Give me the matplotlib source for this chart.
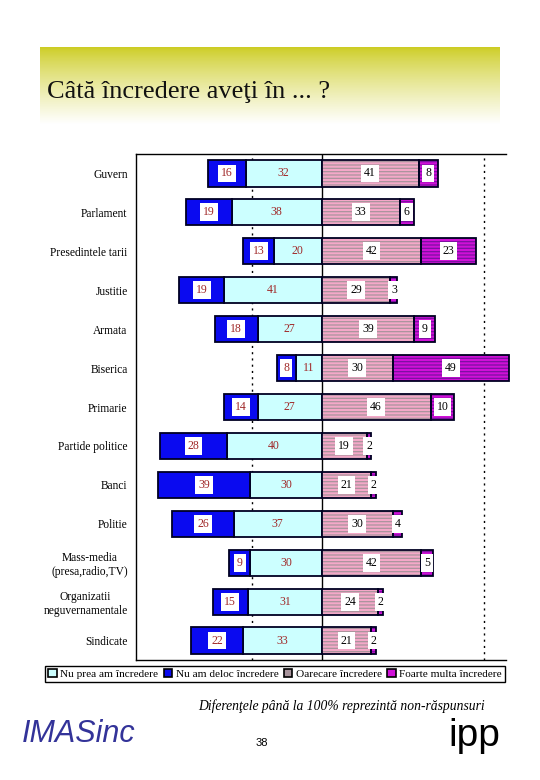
import numpy as np
import matplotlib
matplotlib.use("Agg")
import matplotlib.pyplot as plt
from matplotlib.patches import Patch

categories = ["Guvern", "Parlament", "Presedintele tarii", "Justitie", "Armata",
              "Biserica", "Primarie", "Partide politice", "Banci", "Politie",
              "Mass-media\n(presa,radio,TV)", "Organizatii\nneguvernamentale",
              "Sindicate"]
nu_prea = [32, 38, 20, 41, 27, 11, 27, 40, 30, 37, 30, 31, 33]
nu_deloc = [16, 19, 13, 19, 18, 8, 14, 28, 39, 26, 9, 15, 22]
oarecare = [41, 33, 42, 29, 39, 30, 46, 19, 21, 30, 42, 24, 21]
foarte = [8, 6, 23, 3, 9, 49, 10, 2, 2, 4, 5, 2, 2]
legend_labels = ["Nu prea am încredere", "Nu am deloc încredere",
                 "Oarecare încredere", "Foarte multa încredere"]

C_LIGHT, C_BLUE = "#ccffff", "#0a0af0"
C_PINK, C_PINK_H = "#f4a8c8", "#a8949c"
C_PURP, C_PURP_H = "#d010d8", "#7a10a0"
RED, EDGE = "#a02828", "#000022"
SERIF = "Liberation Serif"

plt.rcParams["hatch.linewidth"] = 0.9

W, H = 540, 780
fig = plt.figure(figsize=(W / 100, H / 100), dpi=100)
fig.patch.set_facecolor("white")

# title banner with yellow -> white gradient
bx = fig.add_axes([40 / W, 1 - 124 / H, 460 / W, 77 / H])
g = np.linspace(0, 1, 200)[:, None]
top = np.array([0.80, 0.80, 0.13])
grad = top[None, None, :] * (1 - g[..., None] ** 0.8) + g[..., None] ** 0.8
bx.imshow(np.repeat(grad, 2, axis=1), aspect="auto", extent=(0, 1, 0, 1))
bx.axis("off")
fig.text(47 / W, 1 - 92 / H, "Câtă încredere aveţi în ... ?", family=SERIF,
         fontsize=19, va="center", ha="left", color="#111111")

# main chart
ax = fig.add_axes([136 / W, 1 - 660 / H, 370 / W, 506 / H])
y = np.arange(len(categories))
h = 0.67
neg_in = -np.array(nu_prea)
neg_out = neg_in - np.array(nu_deloc)

ax.barh(y, nu_prea, left=neg_in, height=h, color=C_LIGHT, edgecolor=EDGE,
        lw=1.3, zorder=3, clip_on=False)
ax.barh(y, nu_deloc, left=neg_out, height=h, color=C_BLUE, edgecolor=EDGE,
        lw=1.3, zorder=3, clip_on=False)
for vals, lefts, fc, hc in [(oarecare, np.zeros(len(y)), C_PINK, C_PINK_H),
                            (foarte, np.array(oarecare), C_PURP, C_PURP_H)]:
    ax.barh(y, vals, left=lefts, height=h, color=fc, edgecolor=hc, lw=0,
            hatch="-----", zorder=3, clip_on=False)
    ax.barh(y, vals, left=lefts, height=h, color="none", edgecolor=EDGE,
            lw=1.3, zorder=4, clip_on=False)

box = dict(boxstyle="square,pad=0.25", fc="white", ec="none")
for i in y:
    ax.text(neg_in[i] - nu_deloc[i] / 2, i, str(nu_deloc[i]), ha="center",
            va="center", color=RED, family=SERIF, fontsize=8.5, bbox=box, zorder=6)
    ax.text(neg_in[i] / 2, i, str(nu_prea[i]), ha="center", va="center",
            color=RED, family=SERIF, fontsize=8.5, zorder=6)
    ax.text(oarecare[i] / 2, i, str(oarecare[i]), ha="center", va="center",
            color="black", family=SERIF, fontsize=8.5, bbox=box, zorder=6)
    ax.text(oarecare[i] + foarte[i] / 2, i, str(foarte[i]), ha="center",
            va="center", color="black", family=SERIF, fontsize=8.5,
            bbox=box, zorder=6)

ax.axvline(0, color="black", lw=1, zorder=2)
for xv in (-29.4, 68.4):
    ax.axvline(xv, color="black", lw=1, ls=(0, (1.5, 3)), zorder=1)

ax.set_xlim(-78.3, 77.8)
ax.set_ylim(len(categories) - 0.5, -0.5)
ax.set_xticks([])
ax.set_yticks(y)
ax.set_yticklabels(categories, family=SERIF, fontsize=8.3, multialignment="center")
ax.tick_params(axis="y", length=0, pad=6)
ax.spines["right"].set_visible(False)
for s in ("left", "top", "bottom"):
    ax.spines[s].set_linewidth(1.0)

handles = [Patch(fc=C_LIGHT, ec="black", lw=1.2),
           Patch(fc=C_BLUE, ec="black", lw=1.2),
           Patch(fc=C_PINK_H, ec="black", lw=1.2),
           Patch(fc=C_PURP, ec="black", lw=1.2)]
leg = fig.legend(handles, legend_labels, loc="center",
                 bbox_to_anchor=(275 / W, 1 - 674 / H), ncol=4, fancybox=False,
                 edgecolor="black", framealpha=1, handlelength=0.75,
                 handleheight=0.75, handletextpad=0.3, columnspacing=0.5,
                 borderpad=0.3, borderaxespad=0, prop={"family": SERIF, "size": 8.1})
leg.get_frame().set_linewidth(1.0)

fig.text(485 / W, 1 - 706 / H, "Diferenţele până la 100% reprezintă non-răspunsuri",
         family=SERIF, style="italic", fontsize=9.8, ha="right", va="center")
fig.text(22 / W, 1 - 734 / H, "IMASinc", family="Liberation Sans", style="italic",
         fontsize=22, color="#333399", ha="left", va="center")
fig.text(262 / W, 1 - 743 / H, "38", family="Liberation Sans", fontsize=8,
         ha="center", va="center")
fig.text(500 / W, 1 - 736 / H, "ipp", family="Liberation Sans", fontsize=28,
         ha="right", va="center")

fig.savefig("out.png", dpi=100)
